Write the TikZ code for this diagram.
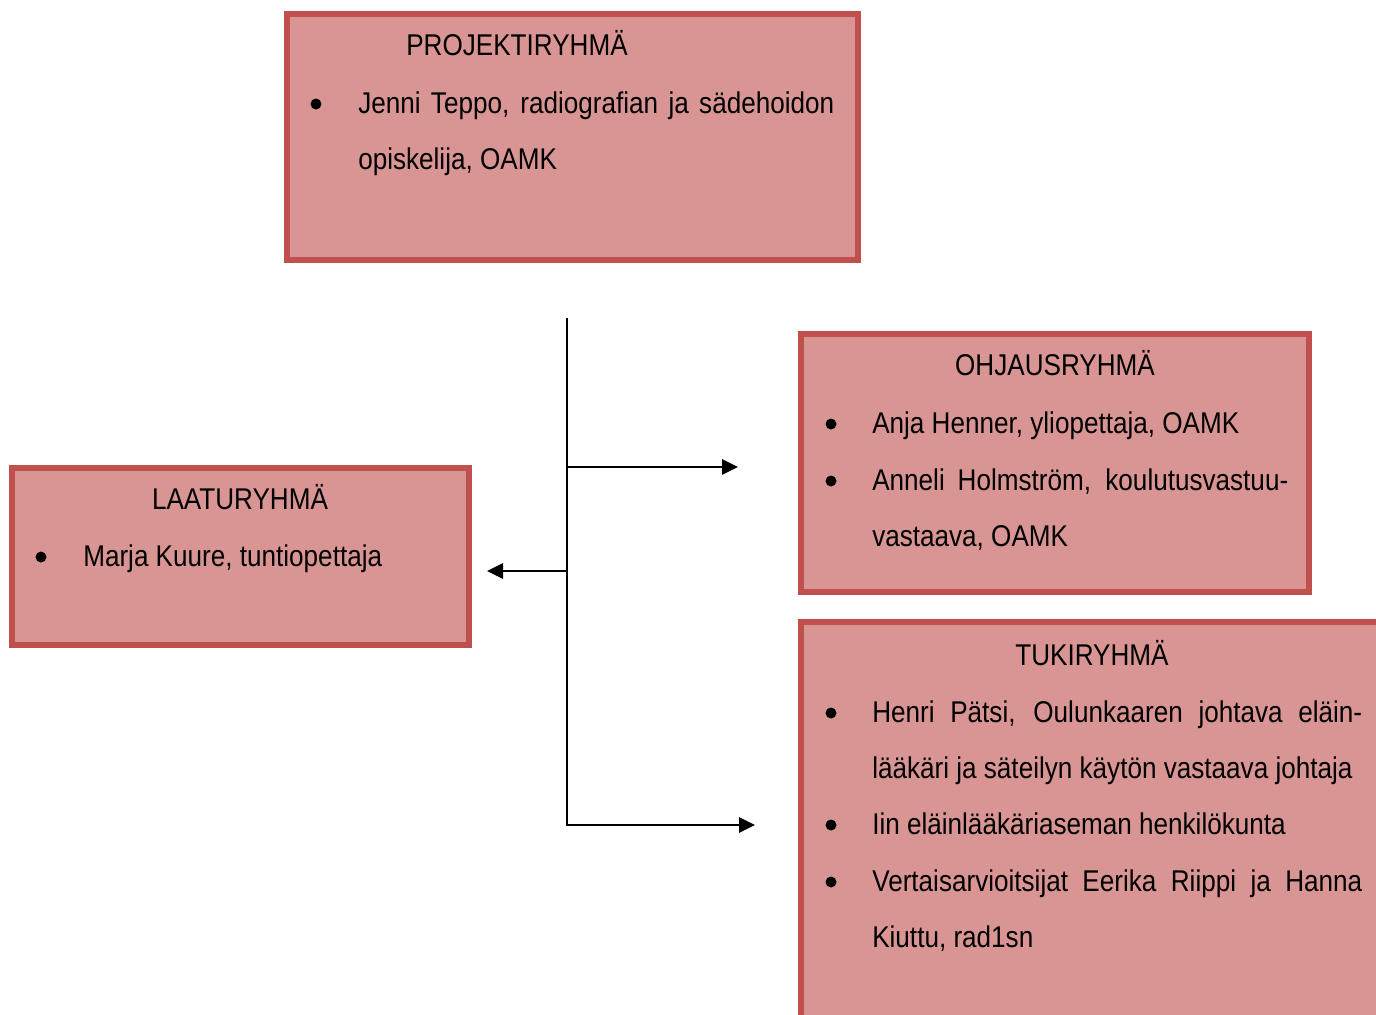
\documentclass[tikz,border=0pt]{standalone}
\usepackage{fontspec}
\setmainfont[FakeStretch=0.87]{Liberation Sans}
\usetikzlibrary{arrows.meta}
\definecolor{boxfill}{HTML}{D99594}
\definecolor{boxline}{HTML}{C0504D}
\begin{document}
\begin{tikzpicture}[x=0.75pt,y=-0.75pt,
  grp/.style={draw=boxline,fill=boxfill,line width=4.5pt,inner sep=0pt,outer sep=0pt},
  txt/.style={anchor=base west,inner sep=0pt,font=\fontsize{22.5}{27}\selectfont},
  head/.style={anchor=base,inner sep=0pt,font=\fontsize{22.5}{27}\selectfont},
  bul/.style={circle,fill=black,inner sep=0pt,minimum size=8.25pt},
  conn/.style={line width=1.6pt},
  arr/.style={conn,-{Triangle[length=12pt,width=11.5pt]}}]
\clip (0,0) rectangle (1376,1014);
\useasboundingbox (0,0) rectangle (1376,1014);
\fill[white] (0,0) rectangle (1376,1014);
% boxes
\node[grp,minimum width={571*0.75pt},minimum height={246*0.75pt}] (proj) at (572.5,137) {};
\node[grp,minimum width={508*0.75pt},minimum height={258*0.75pt}] (ohj) at (1055,463) {};
\node[grp,minimum width={457*0.75pt},minimum height={177*0.75pt}] (laatu) at (240.5,556.5) {};
\node[grp,minimum width={619*0.75pt},minimum height={438*0.75pt}] (tuki) at (1110.5,841) {};
% PROJEKTIRYHMA
\node[head] (ph) at (517,55.5) {PROJEKTIRYHMÄ};
\node[bul] (pb1) at (316,104) {};
\node[txt] (p1) at (358,113.5) {\makebox[357pt][s]{Jenni Teppo, radiografian ja sädehoidon}};
\node[txt] (p2) at (358,169.5) {opiskelija, OAMK};
% OHJAUSRYHMA
\node[head] (oh) at (1055,375) {OHJAUSRYHMÄ};
\node[bul] (ob1) at (831,424) {};
\node[txt] (o1) at (872,433) {Anja Henner, yliopettaja, OAMK};
\node[bul] (ob2) at (831,481) {};
\node[txt] (o2) at (872,490) {\makebox[312pt][s]{Anneli Holmström, koulutusvastuu-}};
\node[txt] (o3) at (872,546) {vastaava, OAMK};
% LAATURYHMA
\node[head] (lh) at (240,509) {LAATURYHMÄ};
\node[bul] (lb1) at (41,557) {};
\node[txt] (l1) at (83,566) {Marja Kuure, tuntiopettaja};
% TUKIRYHMA
\node[head] (th) at (1092,665) {TUKIRYHMÄ};
\node[bul] (tb1) at (831,713) {};
\node[txt] (t1) at (872,722) {\makebox[367.5pt][s]{Henri Pätsi, Oulunkaaren johtava eläin-}};
\node[txt] (t2) at (872,778) {lääkäri ja säteilyn käytön vastaava johtaja};
\node[bul] (tb2) at (831,825) {};
\node[txt] (t3) at (872,834) {Iin eläinlääkäriaseman henkilökunta};
\node[bul] (tb3) at (831,882) {};
\node[txt] (t4) at (872,891) {\makebox[367.5pt][s]{Vertaisarvioitsijat Eerika Riippi ja Hanna}};
\node[txt] (t5) at (872,947) {Kiuttu, rad1sn};
% connectors
\coordinate (top) at (567,318);
\coordinate (j1) at (567,467);
\coordinate (j2) at (567,571);
\coordinate (e1) at (738,467);
\coordinate (e2) at (487,571);
\coordinate (e3) at (755,825);
\draw[arr] (top) |- (e3);
\draw[arr] (j1) -- (e1);
\draw[arr] (j2) -- (e2);
\end{tikzpicture}
\end{document}
